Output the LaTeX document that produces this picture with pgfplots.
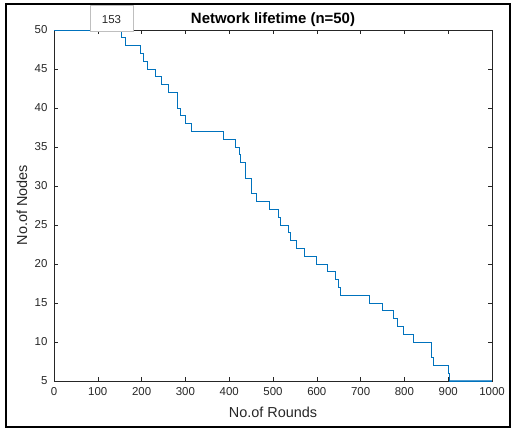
\documentclass[border=0pt]{standalone}
\usepackage{pgfplots}
\pgfplotsset{compat=1.18}
\usepackage{fontspec}
\setmainfont{Liberation Sans}
\definecolor{mlblue}{RGB}{0,114,189}
\definecolor{axgray}{RGB}{38,38,38}
\pgfplotsset{common/.style={
  at={(54bp,49bp)}, anchor=south west,
  scale only axis, width=438bp, height=351bp,
  xmin=0, xmax=1000, ymin=5, ymax=50,
  clip=false}}
\begin{document}
\begin{tikzpicture}[x=1bp,y=1bp]
\path[use as bounding box] (0,0) rectangle (513,430);
\begin{axis}[
  common,
  xtick={0,100,...,1000}, ytick={5,10,...,50},
  tick align=inside, major tick length=4bp,
  axis line style={axgray, line width=0.5bp},
  tick style={axgray, line width=0.5bp},
  ticklabel style={font=\fontsize{11.5}{12}\selectfont, text=axgray},
  xticklabel style={yshift=-3bp},
  yticklabel style={xshift=-3bp},
  /pgf/number format/assume math mode=true,
  /pgf/number format/1000 sep={},
  scaled ticks=false,
]
\end{axis}
\begin{axis}[common, hide axis]
\addplot[const plot, mlblue, line width=0.7bp] coordinates {
(0,50) (153,49) (164,48) (198,47) (203,46) (213,45) (231,44) (246,43)
(261,42) (282,40) (288,39) (300,38) (314,37) (387,36) (413,35) (423,34)
(426,33) (436,31) (451,29) (463,28) (492,27) (512,26) (516,25) (535,24)
(539,23) (554,22) (571,21) (600,20) (623,19) (642,18) (649,17) (653,16)
(720,15) (750,14) (775,13) (785,12) (797,11) (820,10) (862,8) (866,7)
(900,6) (903,5) (1000,5)
};
\addplot[mlblue!70, line width=1.6bp] coordinates {(903,5.05) (1000,5.05)};
\end{axis}
\draw[gray!50, fill=white, line width=0.5bp] (90,399) rectangle (133,425);
\node[font=\fontsize{11.5}{12}\selectfont, text=axgray] at (111.5,410) {153};
\node[font=\bfseries\fontsize{15}{17}\selectfont, text=black] at (273,410) {Network lifetime (n=50)};
\node[font=\fontsize{14.5}{16}\selectfont, text=axgray] at (273,18) {No.of Rounds};
\node[font=\fontsize{14.5}{16}\selectfont, text=axgray, rotate=90] at (22,225) {No.of Nodes};
\draw[line width=2bp] (6,3) rectangle (510,426);
\end{tikzpicture}
\end{document}
